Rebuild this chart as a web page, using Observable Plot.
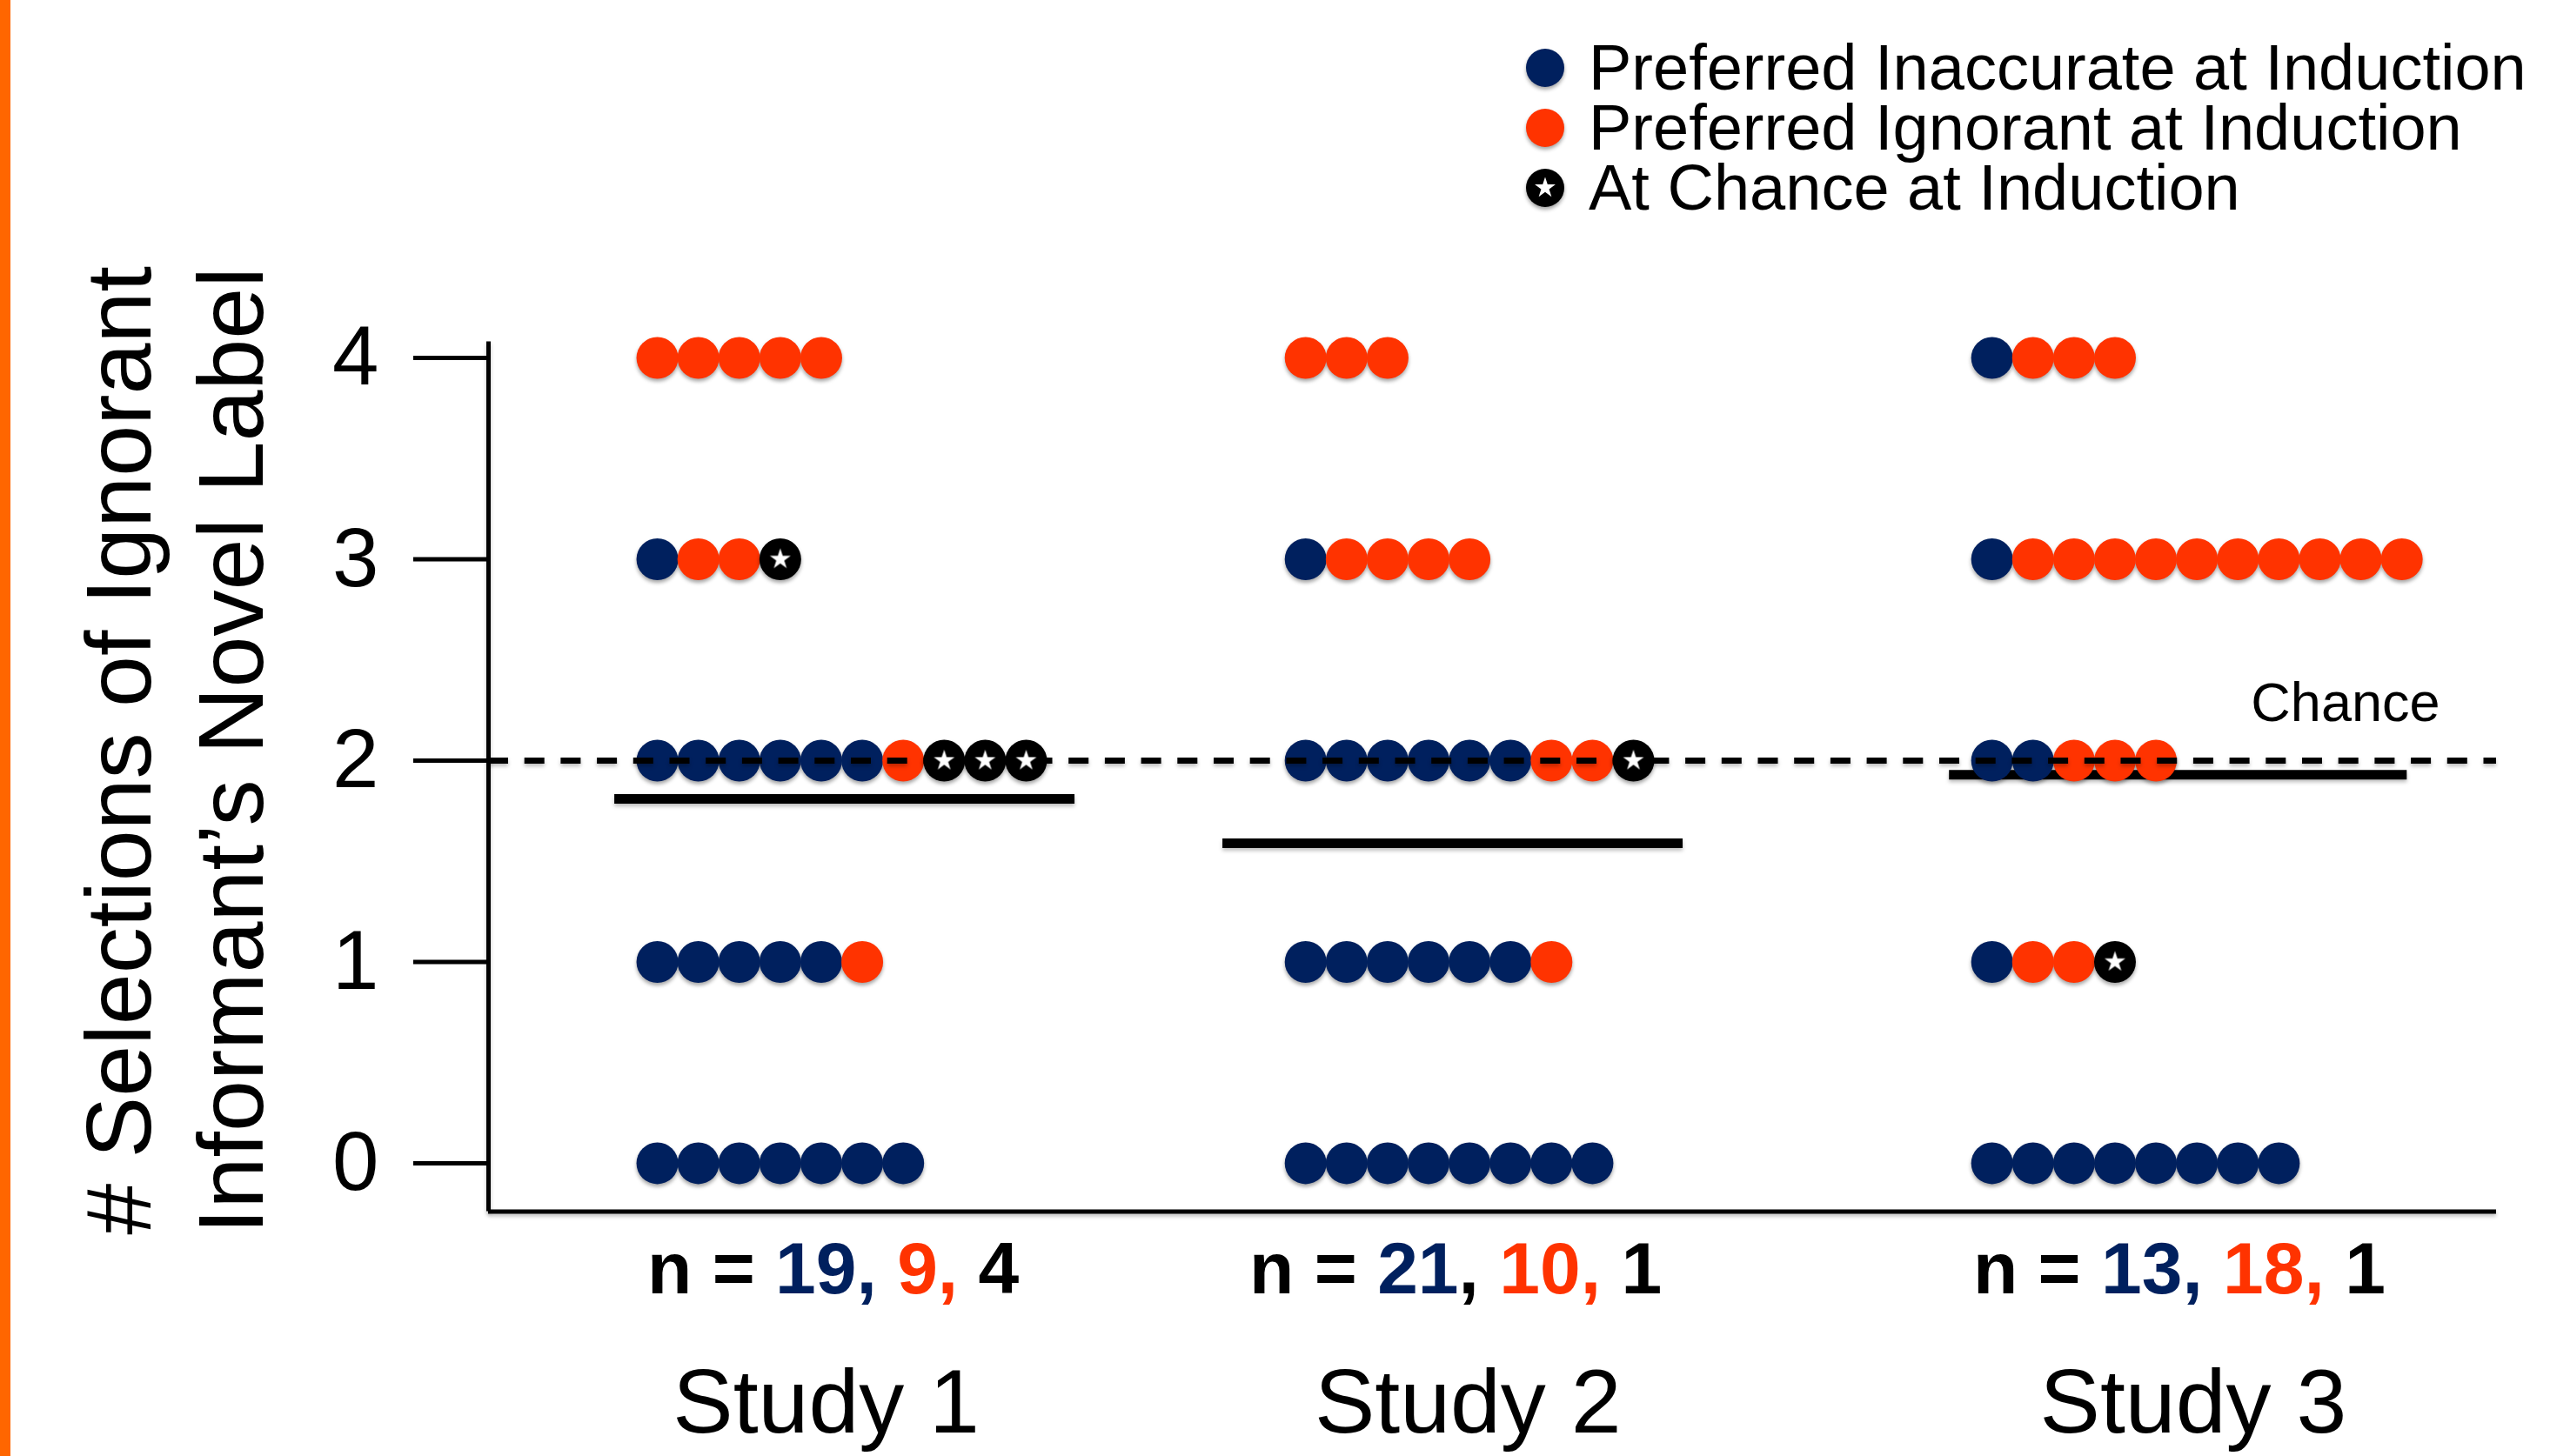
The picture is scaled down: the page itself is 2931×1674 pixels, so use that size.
<!DOCTYPE html>
<html>
<head>
<meta charset="utf-8">
<script src="https://cdn.jsdelivr.net/npm/d3@7"></script>
<script src="https://cdn.jsdelivr.net/npm/@observablehq/plot@0.6"></script>
<style>
  html, body { margin: 0; padding: 0; background: #ffffff; }
  body { width: 2931px; height: 1674px; overflow: hidden; position: relative;
         font-family: "Liberation Sans", Arial, sans-serif; color: #000; }
  #bar { position: absolute; left: 0; top: 0; width: 12px; height: 1674px; background: #FF6600; }
  #legend { position: relative; height: 260px; }
  #legend .marks { position: absolute; left: 1752px; top: 43px; width: 48px; }
  #legend .marks svg { display: block; margin: 10.5px 0 21px 0; overflow: visible; filter: drop-shadow(0px 3px 2px rgba(0,0,0,0.35)); }
  #legend .labels { position: absolute; left: 1826px; top: 43px; font-size: 74px; line-height: 69px; white-space: nowrap; }
  #chart svg g[aria-label="dot"] { filter: drop-shadow(0px 3px 2px rgba(0,0,0,0.35)); }
  #chart svg g[aria-label="rule"] { filter: drop-shadow(0px 3px 2px rgba(0,0,0,0.25)); }
</style>
</head>
<body>
<div id="bar"></div>
<div id="legend"><div class="marks"></div><div class="labels"></div></div>
<div id="chart"></div>
<script>
// ---------------- data ----------------
const studies = ["Study 1", "Study 2", "Study 3"];
const scores = [4, 3, 2, 1, 0];
const groups = ["Preferred Inaccurate at Induction", "Preferred Ignorant at Induction", "At Chance at Induction"];
// number of children at each score (4,3,2,1,0) per study
const inaccurateCounts = [[0, 1, 6, 5, 7], [0, 1, 6, 6, 8], [1, 1, 2, 1, 8]];
const ignorantCounts   = [[5, 2, 1, 1, 0], [3, 4, 2, 1, 0], [3, 10, 3, 2, 0]];
const chanceCounts     = [[0, 1, 3, 0, 0], [0, 0, 1, 0, 0], [0, 0, 0, 1, 0]];
const studyMeans = [1.81, 1.59, 1.93];
const chanceLevel = 2;
const yTitle = "# Selections of Ignorant\nInformant\u2019s Novel Label";

// ---------------- layout / style ----------------
const navy = "#00205E", orange = "#FF3300", black = "#000000";
const groupColors = [navy, orange, black];
const rowStart = [4.12, 19.94, 36.69];           // first dot slot per study (in dot widths)
const meanSpan = [[3.08, 14.31], [17.92, 29.15], [35.65, 46.82]];
const nLabelX = [8.41, 23.6, 41.26];
const studyLabelX = [8.24, 23.9, 41.6];
const commaColor = [navy, black, navy];
const xDomain = [0, 49];
const yDomain = [-0.24, 4.08];
const dotR = 24;
const starR = 7.5;

// build the dot table from the counts
const countsByGroup = [inaccurateCounts, ignorantCounts, chanceCounts];
const dots = [];
studies.forEach((study, k) => {
  scores.forEach((score, j) => {
    let slot = 0;
    groups.forEach((group, g) => {
      for (let c = 0; c < countsByGroup[g][k][j]; c++) {
        dots.push({study, score, group, x: rowStart[k] + slot});
        slot++;
      }
    });
  });
});
const plainDots = dots.filter(d => d.group !== groups[2]);
const chanceDots = dots.filter(d => d.group === groups[2]);

const nTotals = studies.map((s, k) => groups.map((g, gi) => d3.sum(countsByGroup[gi][k])));
const nLabels = nTotals.map(t => `n = ${t[0]}, ${t[1]}, ${t[2]}`);

// ---------------- legend ----------------
const marks = d3.select("#legend .marks");
groups.forEach((g, i) => {
  const sw = marks.append("svg").attr("width", 48).attr("height", 48)
    .style("margin-top", i === 0 ? "10.5px" : "0px");
  sw.append("circle").attr("cx", 24).attr("cy", 24).attr("r", 22).attr("fill", groupColors[i]);
  if (i === 2) {
    sw.append("path")
      .attr("transform", "translate(24,24)")
      .attr("d", d3.symbol(d3.symbolStar, Math.PI * starR * starR)())
      .attr("fill", "#fff");
  }
});
const labels = d3.select("#legend .labels");
groups.forEach((g, i) => {
  if (i > 0) labels.append("br");
  labels.append(() => document.createTextNode(g));
});

// ---------------- chart ----------------
const chart = Plot.plot({
  width: 2931,
  height: 1414,
  marginLeft: 561,
  marginRight: 62,
  marginTop: 132.5,
  marginBottom: 281.5,
  style: {fontFamily: "'Liberation Sans', Arial, sans-serif", background: "transparent", overflow: "visible", color: "#000"},
  x: {domain: xDomain, axis: null},
  y: {domain: yDomain},
  color: {domain: groups, range: groupColors},
  marks: [
    Plot.axisY(scores, {tickSize: 86, tickPadding: 40, fontSize: 96, strokeWidth: 5, tickFormat: d => String(d), label: null}),
    Plot.ruleX([xDomain[0]], {strokeWidth: 5}),
    Plot.ruleY([yDomain[0]], {strokeWidth: 5}),
    Plot.ruleY(studyMeans, {y: d => d, x1: (d, i) => meanSpan[i][0], x2: (d, i) => meanSpan[i][1], strokeWidth: 11}),
    Plot.dot(plainDots, {x: "x", y: "score", r: dotR, fill: "group"}),
    Plot.ruleY([chanceLevel], {strokeWidth: 7, strokeDasharray: "23,18.7"}),
    Plot.dot(chanceDots, {x: "x", y: "score", r: dotR, fill: "group"}),
    Plot.dot(chanceDots, {x: "x", y: "score", r: starR, symbol: "star", fill: "#fff"}),
    Plot.text(["Chance"], {text: d => d, frameAnchor: "right", y: () => chanceLevel, textAnchor: "end", lineAnchor: "middle", dx: -65, dy: -66, fontSize: 63}),
    Plot.text(nLabels, {text: d => d, x: (d, i) => nLabelX[i], frameAnchor: "bottom", lineAnchor: "middle", dy: 67, fontSize: 84, fontWeight: "bold"}),
    Plot.text(studies, {text: d => d, x: (d, i) => studyLabelX[i], frameAnchor: "bottom", lineAnchor: "middle", dy: 221, fontSize: 104}),
    Plot.text([yTitle], {text: d => d, frameAnchor: "left", textAnchor: "middle", lineAnchor: "middle", rotate: -90, fontSize: 106, lineHeight: 1.21, dx: -365, dy: -30})
  ]
});
document.getElementById("chart").appendChild(chart);

// colour the parts of the n = ... labels
const nTexts = Array.from(chart.querySelectorAll("text")).filter(t => t.textContent.startsWith("n = "));
nTexts.forEach((t, k) => {
  const tot = nTotals[k];
  const parts = [
    ["n = ", black], [String(tot[0]), navy], [",", commaColor[k]], [" ", black],
    [String(tot[1]) + ",", orange], [" " + tot[2], black]
  ];
  while (t.firstChild) t.removeChild(t.firstChild);
  parts.forEach(([s, c]) => {
    const ts = document.createElementNS("http://www.w3.org/2000/svg", "tspan");
    ts.textContent = s;
    ts.setAttribute("fill", c);
    t.appendChild(ts);
  });
});
</script>
</body>
</html>
